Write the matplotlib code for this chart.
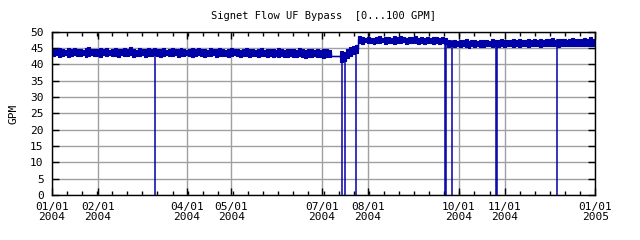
import numpy as np
import matplotlib
matplotlib.use('Agg')
from matplotlib import pyplot as plt

# ------------------------------------------------------------
# Flow readings, 2-day bins: band low / high (GPM)
hi_janjul = [44.8, 44.6, 45.0, 44.7, 44.5, 44.9, 44.6, 45.1, 44.7, 44.8,
             44.5, 44.9, 45.2, 44.6, 44.8, 44.7, 45.0, 44.6, 44.9, 44.5,
             44.8, 45.1, 44.7, 44.6, 44.9, 44.8, 45.2, 44.7, 44.5, 44.9,
             44.6, 44.8, 45.0, 44.7, 44.9, 44.6, 44.8, 45.1, 44.5, 44.7,
             44.9, 44.6, 44.8, 45.0, 44.7, 44.5, 44.8, 44.9, 44.6, 45.1,
             44.7, 44.8, 44.5, 44.9, 44.7, 44.6, 45.0, 44.8, 44.5, 44.7,
             44.9, 44.6, 44.8, 44.5, 44.7, 45.0, 44.6, 44.8, 44.4, 44.7,
             44.9, 44.5, 44.7, 44.6, 44.8, 44.4, 44.9, 44.6, 44.5, 44.8,
             44.6, 44.7, 44.4, 44.9, 44.6, 44.5, 44.8, 44.6, 44.4, 44.7,
             44.5, 44.8, 44.6, 44.5]
lo_janjul = [42.6, 42.9, 42.4, 42.7, 42.8, 42.3, 42.6, 42.8, 42.5, 42.7,
             42.9, 42.4, 42.6, 42.8, 42.5, 42.7, 42.3, 42.8, 42.6, 42.9,
             42.5, 42.7, 42.4, 42.8, 42.6, 42.5, 42.9, 42.3, 42.7, 42.6,
             42.8, 42.4, 42.7, 42.5, 42.9, 42.6, 42.3, 42.7, 42.8, 42.5,
             42.6, 42.8, 42.4, 42.7, 42.5, 42.9, 42.6, 42.4, 42.7, 42.8,
             42.5, 42.3, 42.7, 42.6, 42.8, 42.4, 42.6, 42.5, 42.7, 42.3,
             42.6, 42.8, 42.5, 42.4, 42.7, 42.6, 42.3, 42.5, 42.7, 42.4,
             42.6, 42.5, 42.3, 42.7, 42.4, 42.6, 42.2, 42.5, 42.4, 42.3,
             42.5, 42.2, 42.4, 42.6, 42.3, 42.1, 42.4, 42.3, 42.5, 42.2,
             42.4, 42.1, 42.3, 42.4]
# data gap (held value), then restart in July
hi_gap = [42.7, 42.7, 42.7]
lo_gap = [42.7, 42.7, 42.7]
hi_restart = [44.0, 43.8, 44.6, 45.2, 45.6, 46.0]
lo_restart = [40.8, 41.0, 42.0, 42.6, 43.2, 43.6]
hi_augsep = [48.6, 48.3, 48.1, 48.5, 48.2, 48.0, 48.4, 48.7, 48.2, 48.3,
             48.5, 48.1, 48.6, 48.3, 48.8, 48.4, 48.2, 48.5, 48.3, 48.6,
             48.1, 48.4, 48.2, 48.5, 48.0, 48.3, 48.4, 48.1, 48.3, 48.2]
lo_augsep = [46.7, 46.4, 46.8, 46.5, 46.6, 46.3, 46.7, 46.5, 46.8, 46.4,
             46.6, 46.7, 46.3, 46.6, 46.5, 46.8, 46.4, 46.6, 46.7, 46.5,
             46.3, 46.6, 46.4, 46.7, 46.5, 46.3, 46.6, 46.4, 46.5, 46.3]
hi_octdec = [47.6, 47.3, 47.5, 47.2, 47.6, 47.4, 47.7, 47.3, 47.5, 47.4,
             47.2, 47.6, 47.4, 47.5, 47.3, 47.7, 47.5, 47.4, 47.8, 47.5,
             47.6, 47.4, 47.7, 47.5, 47.9, 47.6, 47.5, 47.8, 47.6, 47.7,
             47.5, 47.9, 47.6, 47.8, 47.7, 48.0, 47.6, 47.8, 47.7, 47.9,
             47.6, 47.8, 48.1, 47.7, 47.9, 47.8, 48.0, 47.7, 48.3, 47.9]
lo_octdec = [45.4, 45.6, 45.2, 45.5, 45.3, 45.6, 45.4, 45.1, 45.5, 45.3,
             45.6, 45.4, 45.2, 45.5, 45.6, 45.3, 45.5, 45.4, 45.6, 45.3,
             45.5, 45.7, 45.4, 45.6, 45.3, 45.5, 45.7, 45.4, 45.6, 45.5,
             45.7, 45.4, 45.6, 45.5, 45.8, 45.5, 45.6, 45.4, 45.7, 45.6,
             45.5, 45.8, 45.6, 45.5, 45.7, 45.6, 45.8, 45.5, 45.7, 45.6]

# moments where the flow dropped to zero
dropouts = ['2004-03-10T12', '2004-07-14T18', '2004-07-16T06',
            '2004-07-23T20', '2004-09-22T00', '2004-09-22T16',
            '2004-09-26T14', '2004-10-26T06', '2004-10-26T20',
            '2004-12-06T14']

tick_dates = ['2004-01-01', '2004-02-01', '2004-04-01', '2004-05-01',
              '2004-07-01', '2004-08-01', '2004-10-01', '2004-11-01',
              '2005-01-01']
tick_labels = ['01/01\n2004', '02/01\n2004', '04/01\n2004', '05/01\n2004',
               '07/01\n2004', '08/01\n2004', '10/01\n2004', '11/01\n2004',
               '01/01\n2005']

# ------------------------------------------------------------
hi = np.array(hi_janjul + hi_gap + hi_restart + hi_augsep + hi_octdec)
lo = np.array(lo_janjul + lo_gap + lo_restart + lo_augsep + lo_octdec)
start = np.datetime64('2004-01-01T00', 'h')
end = np.datetime64('2005-01-01T00', 'h')

# bin centres (2-day bins)
hours = np.arange(len(hi)) * 48 + 24
t = start + hours.astype('timedelta64[h]')

drop_t = np.array(dropouts, dtype='datetime64[h]')
drop_top = np.interp((drop_t - start).astype(float), hours.astype(float), hi)

mono = 'DejaVu Sans Mono'
blue = '#0000a8'

fig = plt.figure(figsize=(6.4, 2.4), dpi=100)
ax = fig.add_axes([0.081, 0.1875, 0.849, 0.68])

# ragged band: stepped fill between low and high of each bin
ax.fill_between(t, lo, hi, step='mid', color=blue, lw=0.8, edgecolor=blue)
ax.plot(t, (lo + hi) / 2, color=blue, lw=1.0, drawstyle='steps-mid')
ax.vlines(drop_t, 0, drop_top, color=blue, lw=1.1)

ax.set_xlim(start, end)
ax.set_ylim(0, 50)
ax.set_yticks(np.arange(0, 51, 5))
ax.set_xticks(np.array(tick_dates, dtype='datetime64[h]'))
ax.set_xticklabels(tick_labels, fontfamily=mono, fontsize=8, linespacing=1.0)
ax.set_xticks(start + (np.arange(37) * 244).astype('timedelta64[h]'),
              minor=True)
for lab in ax.get_yticklabels():
    lab.set_fontfamily(mono)
    lab.set_fontsize(8)

ax.grid(which='major', color='#a0a0a0', lw=1.0)
ax.set_axisbelow(True)
ax.tick_params(which='both', direction='in', top=True, right=True,
               width=1.0, color='black')
ax.tick_params(which='major', length=5, pad=5)
ax.tick_params(which='minor', length=3)
ax.tick_params(axis='y', pad=6)
for s in ax.spines.values():
    s.set_linewidth(1.0)

ax.set_ylabel('GPM', fontfamily=mono, fontsize=8, labelpad=8)
ax.set_title('Signet Flow UF Bypass  [0...100 GPM]', fontfamily=mono,
             fontsize=7.5, pad=9)

fig.savefig('out.png', dpi=100)
